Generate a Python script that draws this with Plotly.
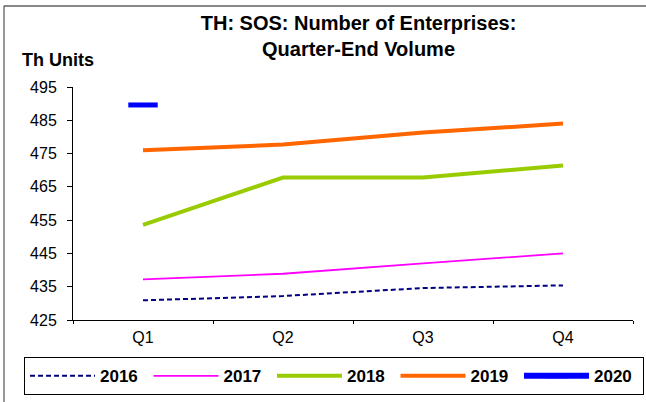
import plotly.graph_objects as go

quarters = ["Q1", "Q2", "Q3", "Q4"]

y2016 = [430.9, 432.2, 434.6, 435.4]
y2017 = [437.2, 438.9, 442.0, 445.0]
y2018 = [453.6, 467.8, 467.8, 471.4]
y2019 = [476.0, 477.7, 481.3, 484.0]
y2020 = [489.6]

FONT = "Arial, Liberation Sans, sans-serif"

fig = go.Figure()

fig.add_trace(go.Scatter(x=quarters, y=y2016, name="2016", mode="lines",
                         line=dict(color="#000080", width=2, dash="5px,3px")))
fig.add_trace(go.Scatter(x=quarters, y=y2017, name="2017", mode="lines",
                         line=dict(color="#FF00FF", width=1.8)))
fig.add_trace(go.Scatter(x=quarters, y=y2018, name="2018", mode="lines",
                         line=dict(color="#99CC00", width=4)))
fig.add_trace(go.Scatter(x=quarters, y=y2019, name="2019", mode="lines",
                         line=dict(color="#FF6600", width=4)))
fig.add_trace(go.Scatter(x=quarters[:1], y=y2020, name="2020", mode="lines+markers",
                         line=dict(color="#0000FF", width=6),
                         marker=dict(symbol="line-ew", size=21,
                                     line=dict(color="#0000FF", width=5))))

fig.update_layout(
    width=646,
    height=402,
    margin=dict(l=73, r=13, t=87, b=82, autoexpand=False),
    paper_bgcolor="white",
    plot_bgcolor="white",
    font=dict(family=FONT, size=16, color="black"),
    title=dict(
        text="<b>TH: SOS: Number of Enterprises:<br>Quarter-End Volume</b>",
        font=dict(family=FONT, size=20, color="black"),
        x=0.555, xanchor="center", xref="container",
        y=0.925, yanchor="top", yref="container",
    ),
    showlegend=True,
    legend=dict(
        orientation="h",
        x=-0.0875, xanchor="left",
        y=-0.16, yanchor="top",
        bordercolor="black", borderwidth=1,
        font=dict(family=FONT, size=17, color="black", weight="bold"),
        itemwidth=65,
        entrywidth=43.5, entrywidthmode="pixels",
        tracegroupgap=0,
    ),
    xaxis=dict(
        range=[-0.5, 3.5],
        showline=True, linecolor="black", linewidth=1,
        ticks="outside", ticklen=3, tickcolor="black",
        tickson="boundaries",
        ticklabelstandoff=3,
        showgrid=False, zeroline=False,
        tickfont=dict(size=16),
    ),
    yaxis=dict(
        range=[425, 495],
        dtick=10, tick0=425,
        showline=True, linecolor="black", linewidth=1,
        ticks="outside", ticklen=5, tickcolor="black",
        ticklabelstandoff=7,
        showgrid=False, zeroline=False,
        tickfont=dict(size=16),
    ),
    annotations=[
        dict(text="<b>Th Units</b>", xref="paper", yref="paper",
             x=-0.095, y=1.116, xanchor="left", yanchor="middle",
             showarrow=False, font=dict(family=FONT, size=18, color="black")),
    ],
    shapes=[
        dict(type="line", xref="paper", yref="paper", layer="above",
             x0=-0.1232, x1=1.03, y0=1.348, y1=1.348,
             line=dict(color="#888888", width=2)),
        dict(type="line", xref="paper", yref="paper", layer="above",
             x0=-0.1232, x1=-0.1232, y0=1.348, y1=-0.36,
             line=dict(color="#333333", width=1)),
    ],
)

# drop the default 8px page margin so the figure sits at the window origin
fig.write_html("out.html", config={"displayModeBar": False},
               post_script="document.body.style.margin = '0';")
